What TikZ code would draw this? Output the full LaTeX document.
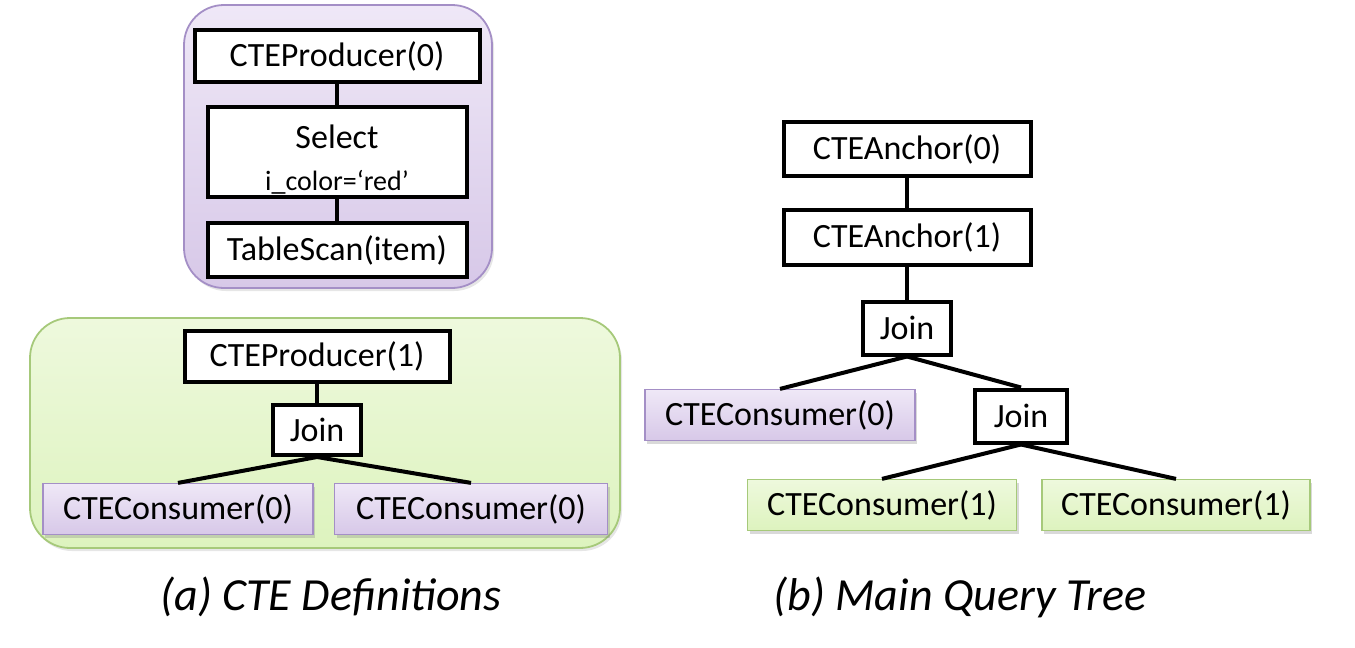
\documentclass[tikz,border=0pt]{standalone}
\usepackage{fontspec}
\setmainfont{Carlito}
\usetikzlibrary{shadows}

\definecolor{purpletop}{HTML}{EFE8F7}
\definecolor{purplebottom}{HTML}{D7C8E8}
\definecolor{purpleedge}{HTML}{A48FC6}
\definecolor{greentop}{HTML}{EEF9DD}
\definecolor{greenbottom}{HTML}{DDF3BE}
\definecolor{greenedge}{HTML}{A6C97A}
\tikzset{
  area/.style={top color=#1top, bottom color=#1bottom, draw=#1edge}
  }
\tikzstyle{container} = [line width=0.9pt, rounded corners=20pt, drop shadow={shadow xshift=1pt, shadow yshift=-1.5pt, opacity=0.2}]
\tikzstyle{op} = [draw, line width=2pt, fill=white, inner sep=0pt, align=center]
\tikzstyle{consumer} = [line width=0.6pt, inner sep=0pt, drop shadow={shadow xshift=1.2pt, shadow yshift=-1.8pt, opacity=0.3}]
\tikzstyle{tree edge} = [draw, line width=2pt, -]
\tikzstyle{caption} = [font=\fontsize{23}{28}\selectfont\itshape]

\begin{document}
\begin{tikzpicture}[x=0.5pt, y=-0.5pt, every node/.style={font=\fontsize{17}{20}\selectfont}]
    \useasboundingbox (0,0) rectangle (1355,648);

    % The two CTE definitions
    \path[container, area=purple] (184,5) rectangle (492,288);
    \path[container, area=green] (30,318) rectangle (620,548);

    % Operators of the plans
    \foreach \pos/\name/\bw/\bh/\txt in {{(337,56)/p0/285/52/CTEProducer(0)}, {(337,250)/scan/259/54/TableScan(item)}, {(317,356)/p1/265/51/CTEProducer(1)}, {(317,430)/join/88/50/Join}, {(907,149)/a0/247/54/CTEAnchor(0)}, {(907,237)/a1/247/55/CTEAnchor(1)}, {(907,328)/j1/88/53/Join}, {(1021,416)/j2/92/53/Join}} {
      \node[op, minimum width=\bw*0.5pt, minimum height=\bh*0.5pt] (\name) at \pos {\txt};
    }
    \node[op, minimum width=129.5pt, minimum height=45pt] (sel) at (337,152) {\rule{0pt}{19pt}Select\\[1pt]{\fontsize{14}{16}\selectfont i\_color=`red'}};

    % the consumers
    \foreach \pos/\name/\bw/\kind/\txt in {{(178,509)/c0a/270/purple/CTEConsumer(0)}, {(471,509)/c0b/273/purple/CTEConsumer(0)}, {(780,415)/c0r/270/purple/CTEConsumer(0)}, {(882,505)/c1a/269/green/CTEConsumer(1)}, {(1176,505)/c1b/268/green/CTEConsumer(1)}} {
      \node[consumer, area=\kind, minimum width=\bw*0.5pt, minimum height=25.5pt] (\name) at \pos {\txt};
    }

    % The connections between them
    \foreach \source/\sink in {p0/sel, sel/scan, p1/join, join/c0a, join/c0b, a0/a1, a1/j1, j1/c0r, j1/j2, j2/c1a, j2/c1b} {
      \path[tree edge] (\source.south) -- (\sink.north);
    }

    % captions
    \node[caption] (capa) at (331,597) {(a) CTE Definitions};
    \node[caption] (capb) at (960,597) {(b) Main Query Tree};
\end{tikzpicture}
\end{document}
